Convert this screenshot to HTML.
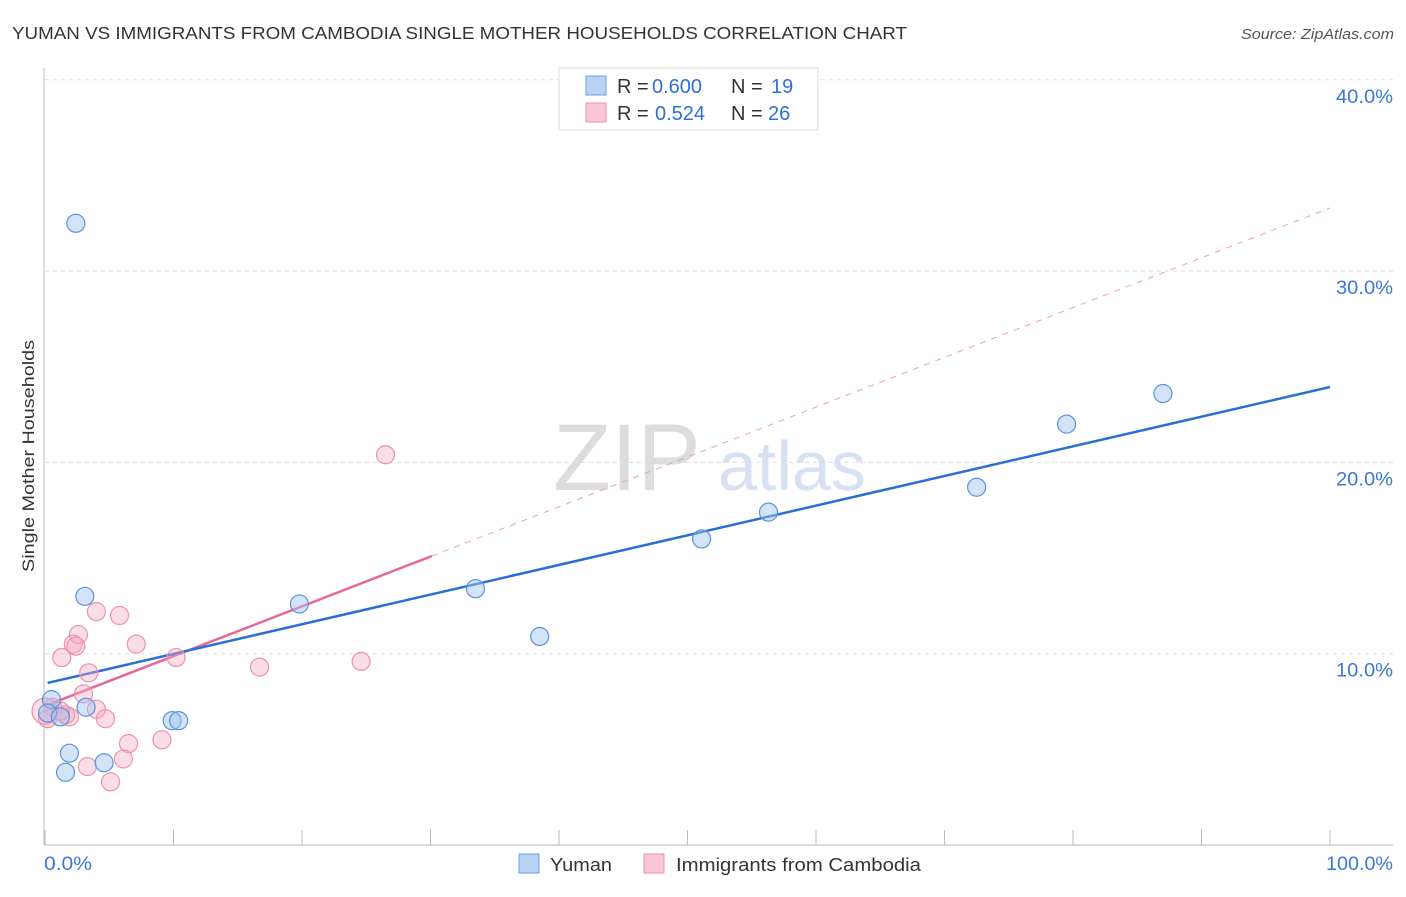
<!DOCTYPE html>
<html><head><meta charset="utf-8"><style>
body{margin:0;background:#fff;font-family:"Liberation Sans",sans-serif;}
text{font-family:"Liberation Sans",sans-serif;}
</style></head><body>
<svg id="chart" width="1406" height="892" viewBox="0 0 1406 892" xmlns="http://www.w3.org/2000/svg">
<text x="12" y="39" font-size="17.5" fill="#333" textLength="895" lengthAdjust="spacingAndGlyphs">YUMAN VS IMMIGRANTS FROM CAMBODIA SINGLE MOTHER HOUSEHOLDS CORRELATION CHART</text>
<text x="1394" y="39" font-size="15" fill="#555" text-anchor="end" font-style="italic" textLength="153" lengthAdjust="spacingAndGlyphs">Source: ZipAtlas.com</text>
<text x="553" y="490" font-size="95" fill="#ddd" font-family="Liberation Serif">ZIP</text>
<text x="718" y="490" font-size="70" fill="#d6e2f3">atlas</text>
<g id="grid"></g>
<g id="axes"></g>
<g id="lines"></g>
<g id="points"></g>
<text transform="translate(34,456) rotate(-90)" font-size="17" fill="#333" text-anchor="middle" textLength="232" lengthAdjust="spacingAndGlyphs">Single Mother Households</text>
<g>
<rect x="559" y="68" width="259" height="62" fill="#fff" stroke="#ddd"/>
<rect x="586" y="76" width="20" height="19" fill="#b9d3f5" stroke="#6a9fe0"/>
<rect x="586" y="103" width="20" height="19" fill="#f9c6d6" stroke="#eb92ae"/>
<text x="617" y="93" font-size="20" fill="#333">R = <tspan fill="#2f6fd6" x="652">0.600</tspan><tspan x="731">N = </tspan><tspan fill="#2f6fd6" x="771">19</tspan></text>
<text x="617" y="120" font-size="20" fill="#333">R = <tspan fill="#2f6fd6" x="655">0.524</tspan><tspan x="731">N = </tspan><tspan fill="#2f6fd6" x="768">26</tspan></text>
</g>
<g>
<rect x="519" y="854" width="20" height="19" fill="#b9d3f5" stroke="#6a9fe0"/>
<text x="550" y="871" font-size="18" fill="#333" textLength="62" lengthAdjust="spacingAndGlyphs">Yuman</text>
<rect x="644" y="854" width="20" height="19" fill="#f9c6d6" stroke="#eb92ae"/>
<text x="676" y="871" font-size="18" fill="#333" textLength="245" lengthAdjust="spacingAndGlyphs">Immigrants from Cambodia</text>
</g>
</svg>
<script>
const yTicks=[10,20,30,40];
const yTickLabels=["10.0%","20.0%","30.0%","40.0%"];
const xTickLabels=["0.0%","100.0%"];
const yumanX=[2.4,3.1,19.8,33.5,38.5,51.1,56.3,72.5,79.5,87.0,0.5,0.2,1.2,3.2,9.9,10.4,1.9,1.6,4.6];
const yumanY=[32.5,13.0,12.6,13.4,10.9,16.0,17.4,18.7,22.0,23.6,7.6,6.9,6.7,7.2,6.5,6.5,4.8,3.8,4.3];
const cambX=[26.5,4.0,5.8,2.6,2.2,2.4,7.1,1.3,10.2,16.7,24.6,3.4,3.0,4.0,0.6,1.6,1.9,0.2,4.7,6.5,9.1,3.3,6.1,5.1,0,1.2];
const cambY=[20.4,12.2,12.0,11.0,10.5,10.4,10.5,9.8,9.8,9.3,9.6,9.0,7.9,7.1,7.2,6.8,6.7,6.6,6.6,5.3,5.5,4.1,4.5,3.3,7.0,7.0];
const yumanFit=[8.47,23.94];
const cambFit=[7.27,33.3];
const cambFitEnd=30.1;
const X=v=>45+v*12.85, Y=v=>845-v*19.13;
const NS="http://www.w3.org/2000/svg";
function mk(parent,tag,attrs){const e=document.createElementNS(NS,tag);for(const k in attrs)e.setAttribute(k,attrs[k]);document.getElementById(parent).appendChild(e);return e;}
yTicks.forEach((t,i)=>{
 const g=mk('grid','line',{x1:45,x2:1393,y1:Y(t),y2:Y(t),stroke:'#ddd','stroke-dasharray':'4,4'});
 
 
 const l=mk('grid','text',{x:1393,y:Y(t)+23,'font-size':19,fill:'#3d78d8','text-anchor':'end',textLength:57,lengthAdjust:'spacingAndGlyphs'});
 l.textContent=yTickLabels[i];
 
 
});
let a=mk('axes','line',{x1:44,x2:44,y1:68,y2:845,stroke:'#bbb'});


a=mk('axes','line',{x1:44,x2:1393,y1:845,y2:845,stroke:'#bbb'});


for(let i=0;i<=10;i++){const t=mk('axes','line',{x1:X(i*10),x2:X(i*10),y1:830,y2:845,stroke:'#bbb'});
 
 }
[[0,'start',44,48],[100,'end',1393,67]].forEach((d,i)=>{const t=mk('axes','text',{x:d[2],y:870,'font-size':19,fill:'#3d78d8','text-anchor':d[1],textLength:d[3],lengthAdjust:'spacingAndGlyphs'});t.textContent=xTickLabels[i];
 
 });
let ln=mk('lines','line',{x1:X(cambFitEnd),y1:Y(cambFit[0]+(cambFit[1]-cambFit[0])*cambFitEnd/100),x2:X(100),y2:Y(cambFit[1]),stroke:'#e8a0b8','stroke-dasharray':'6,6','stroke-width':1});


ln=mk('lines','line',{x1:X(0),y1:Y(cambFit[0]),x2:X(cambFitEnd),y2:Y(cambFit[0]+(cambFit[1]-cambFit[0])*cambFitEnd/100),stroke:'#e8679a','stroke-width':2.5});


ln=mk('lines','line',{x1:X(0.2),y1:Y(yumanFit[0]),x2:X(100),y2:Y(yumanFit[1]),stroke:'#2a6fd6','stroke-width':2.5});


cambX.forEach((x,i)=>{const c=mk('points','circle',{cx:X(x),cy:Y(cambY[i]),r:(i==24?13:9),fill:'rgba(246,170,195,0.4)',stroke:'#eb92ae','stroke-width':1.2});
 
 });
yumanX.forEach((x,i)=>{const c=mk('points','circle',{cx:X(x),cy:Y(yumanY[i]),r:9,fill:'rgba(160,195,240,0.45)',stroke:'#5b93dc','stroke-width':1.2});
 
 });
</script>
</body></html>
